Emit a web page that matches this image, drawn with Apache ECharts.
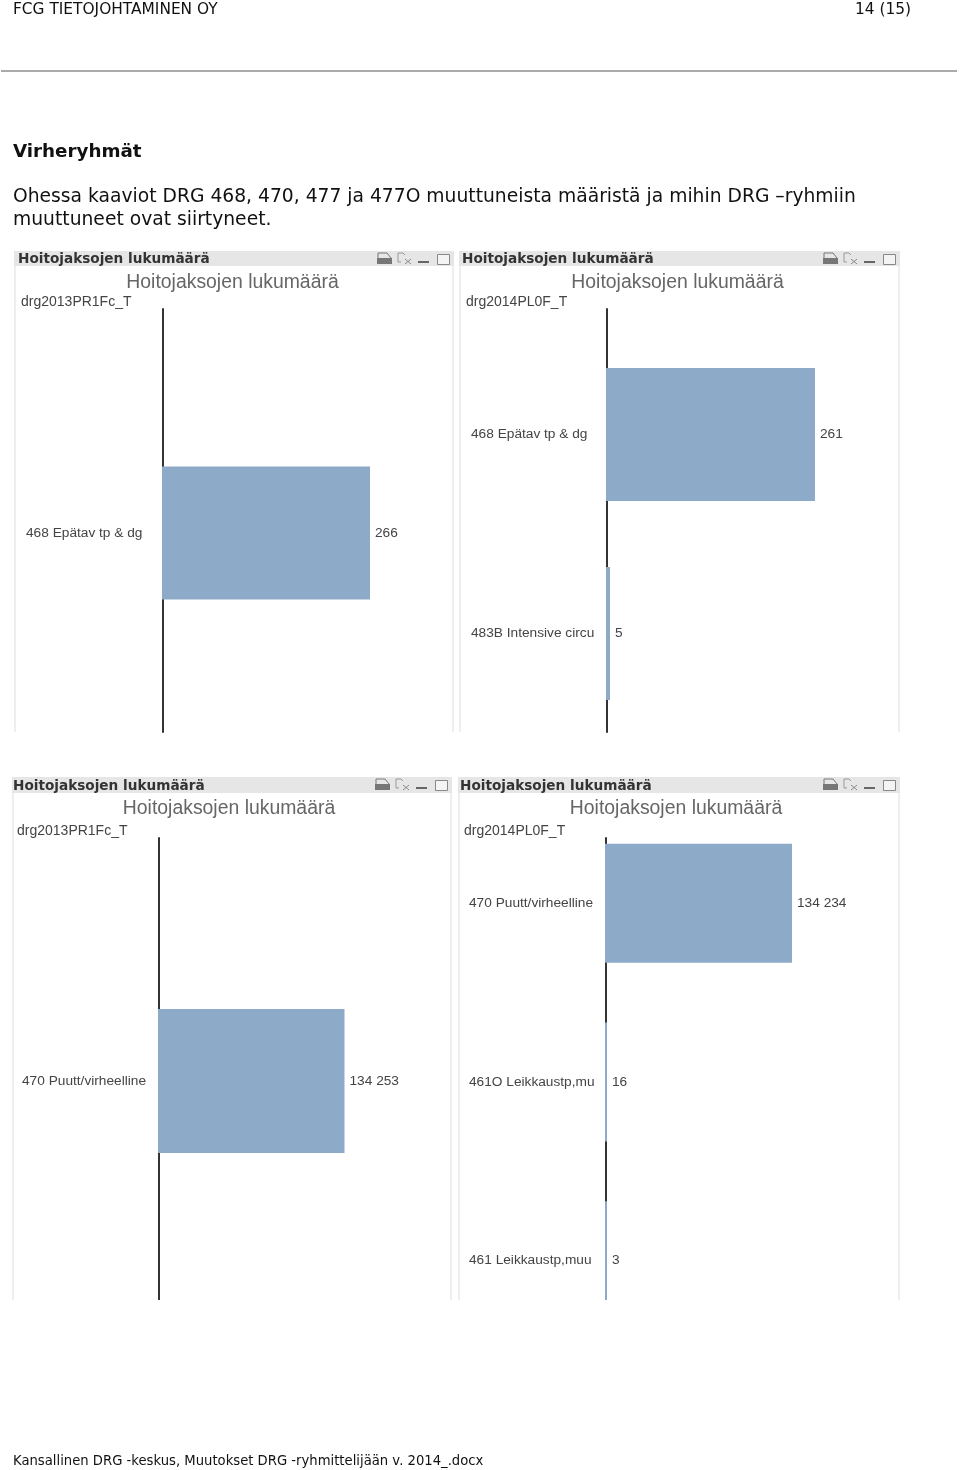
<!DOCTYPE html>
<html>
<head>
<meta charset="utf-8">
<style>
html, body { margin: 0; padding: 0; background: #fff; }
#main { width: 960px; height: 1470px; }
</style>
</head>
<body>
<div id="main"></div>
<script src="https://cdn.jsdelivr.net/npm/echarts@6/dist/echarts.min.js"></script>
<script>
const categories1 = ['468 Epätav tp & dg']
const values1 = [266]
const categories2 = ['468 Epätav tp & dg', '483B Intensive circu']
const values2 = [261, 5]
const categories3 = ['470 Puutt/virheelline']
const values3 = [134253]
const categories4 = ['470 Puutt/virheelline', '461O Leikkaustp,mu', '461 Leikkaustp,muu']
const values4 = [134234, 16, 3]

const panelTitle = 'Hoitojaksojen lukumäärä'
const bodyLines = [
  'Ohessa kaaviot DRG 468, 470, 477 ja 477O muuttuneista määristä ja mihin DRG –ryhmiin',
  'muuttuneet ovat siirtyneet.'
]

const SANS = '"Liberation Sans", Arial, sans-serif'
const VERDANA = '"DejaVu Sans", Verdana, sans-serif'
const BLUE = '#8eaac9'
const LABEL_SIZE = 13.7

const panels = [
  { left: 14, right: 454, top: 251, bottom: 732, head: 15, titleX: 232.5, titleY: 282.5, dimX: 21, dimY: 302, headX: 18, labelX: 26, dim: 'drg2013PR1Fc_T', axisLeft: 162, axisTop: 309,
    gridTop: 334, gridH: 398, width: 208, barWidth: 133, cats: categories1, vals: values1 },
  { left: 459, right: 900, top: 251, bottom: 732, head: 15, titleX: 677.5, titleY: 282.5, dimX: 466, dimY: 302, headX: 462, labelX: 471, dim: 'drg2014PL0F_T', axisLeft: 606, axisTop: 309,
    gridTop: 335, gridH: 398, width: 209, barWidth: 133, cats: categories2, vals: values2 },
  { left: 12, right: 452, top: 777, bottom: 1300, head: 16, titleX: 229, titleY: 809, dimX: 17, dimY: 831, headX: 13, labelX: 22, dim: 'drg2013PR1Fc_T', axisLeft: 158, axisTop: 838,
    gridTop: 862, gridH: 438, width: 186.5, barWidth: 144, cats: categories3, vals: values3 },
  { left: 458, right: 900, top: 777, bottom: 1300, head: 16, titleX: 676, titleY: 809, dimX: 464, dimY: 831, headX: 460, labelX: 469, dim: 'drg2014PL0F_T', axisLeft: 605, axisTop: 838,
    gridTop: 814, gridH: 536, width: 187, barWidth: 119, cats: categories4, vals: values4 }
]

function pageText(x, y, text, size, opts) {
  return {
    type: 'text', x: x, y: y, z: 20,
    style: Object.assign({
      text: text, fontSize: size, fontFamily: VERDANA, fill: '#111',
      verticalAlign: 'middle'
    }, opts || {})
  }
}

function icons(right, top) {
  const c = '#777'
  const x = right - 77
  return [
    { type: 'rect', z: 20, shape: { x: x, y: top + 7, width: 15, height: 6 }, style: { fill: c } },
    { type: 'polyline', z: 20, shape: { points: [[x + 1, top + 7], [x + 1, top + 2], [x + 10, top + 2], [x + 14, top + 7]] }, style: { stroke: c, fill: 'none', lineWidth: 1 } },
    { type: 'polyline', z: 20, shape: { points: [[x + 24, top + 11], [x + 21, top + 11], [x + 21, top + 2], [x + 26, top + 2], [x + 28, top + 4]] }, style: { stroke: '#999', fill: 'none', lineWidth: 1 } },
    { type: 'polyline', z: 20, shape: { points: [[x + 28, top + 8], [x + 34, top + 13]] }, style: { stroke: '#888', lineWidth: 1 } },
    { type: 'polyline', z: 20, shape: { points: [[x + 34, top + 8], [x + 28, top + 13]] }, style: { stroke: '#888', lineWidth: 1 } },
    { type: 'rect', z: 20, shape: { x: x + 41, y: top + 10, width: 11, height: 2 }, style: { fill: '#666' } },
    { type: 'rect', z: 20, shape: { x: x + 60.5, y: top + 3.5, width: 12, height: 10 }, style: { stroke: '#888', fill: '#f4f4f4', lineWidth: 1 } }
  ]
}

const grid = []
const xAxis = []
const yAxis = []
const series = []
const title = []
let graphic = [
  pageText(13, 10, 'FCG TIETOJOHTAMINEN OY', 15.4),
  pageText(911, 10, '14 (15)', 15.4, { align: 'right' }),
  { type: 'line', z: 20, shape: { x1: 1, y1: 71, x2: 957, y2: 71 }, style: { stroke: '#aaa', lineWidth: 2 } },
  pageText(13, 152, 'Virheryhmät', 18.3, { fontWeight: 'bold' }),
  pageText(13, 197, bodyLines[0], 18.73),
  pageText(13, 220, bodyLines[1], 18.73),
  pageText(13, 1462, 'Kansallinen DRG -keskus, Muutokset DRG -ryhmittelijään v. 2014_.docx', 13.2)
]

panels.forEach(function (p) {
  const idx = grid.length

  // data grid, the category axis has no line of its own
  grid.push({ left: p.axisLeft, top: p.gridTop, width: p.width, height: p.gridH })
  xAxis.push({ gridIndex: idx, type: 'value', min: 0, max: p.vals[0], show: false })
  yAxis.push({
    gridIndex: idx, type: 'category', inverse: true, data: p.cats,
    axisLine: { show: false }, axisTick: { show: false },
    axisLabel: { interval: 0, align: 'left', margin: p.axisLeft - p.labelX, color: '#444', fontFamily: SANS, fontSize: LABEL_SIZE, padding: [3, 0, 0, 0] }
  })
  series.push({
    type: 'bar', xAxisIndex: idx, yAxisIndex: idx, data: p.vals, barWidth: p.barWidth, barMinHeight: 2,
    itemStyle: { color: BLUE }, z: 5,
    label: {
      show: true, position: 'right', distance: 5, color: '#444', fontFamily: SANS, fontSize: LABEL_SIZE, padding: [3, 0, 0, 0],
      formatter: function (d) { return String(d.value).replace(/\B(?=(\d{3})+$)/g, ' ') }
    }
  })

  // the visible axis line is longer than the bands, so it gets a grid of its own
  grid.push({ left: p.axisLeft + 1, top: p.axisTop, width: p.width, height: p.bottom - p.axisTop })
  xAxis.push({ gridIndex: idx + 1, type: 'value', show: false })
  yAxis.push({
    gridIndex: idx + 1, type: 'value', splitLine: { show: false }, axisTick: { show: false }, axisLabel: { show: false },
    axisLine: { show: true, onZero: false, lineStyle: { color: '#333', width: 2 } }
  })

  title.push({
    text: panelTitle, left: p.titleX, top: p.titleY, textAlign: 'center', textVerticalAlign: 'middle', padding: 0,
    textStyle: { fontFamily: SANS, fontWeight: 'normal', fontSize: 19.4, color: '#666' }
  })
  title.push({
    text: p.dim, left: p.dimX, top: p.dimY, textVerticalAlign: 'middle', padding: 0,
    textStyle: { fontFamily: SANS, fontWeight: 'normal', fontSize: 14, color: '#444' }
  })

  // frame of the panel
  graphic.push({ type: 'rect', z: 20, shape: { x: p.left, y: p.top, width: p.right - p.left, height: p.head }, style: { fill: '#e6e6e6' } })
  graphic.push({ type: 'rect', z: 20, shape: { x: p.left, y: p.top + p.head, width: 2, height: p.bottom - p.top - p.head }, style: { fill: '#eeeeee' } })
  graphic.push({ type: 'rect', z: 20, shape: { x: p.right - 2, y: p.top + p.head, width: 2, height: p.bottom - p.top - p.head }, style: { fill: '#eeeeee' } })
  graphic.push(pageText(p.headX, p.top + p.head / 2 + 1, panelTitle, 13.64, { fontWeight: 'bold', fill: '#333' }))
  graphic = graphic.concat(icons(p.right, p.top))
})

// the screenshot of the lower charts is cut off here
graphic.push({ type: 'rect', z: 15, shape: { x: 0, y: 1300, width: 960, height: 60 }, style: { fill: '#fff' } })

const myChart = echarts.init(document.getElementById('main'))
myChart.setOption({
  animation: false,
  backgroundColor: '#fff',
  title: title,
  grid: grid,
  xAxis: xAxis,
  yAxis: yAxis,
  series: series,
  graphic: graphic
})
</script>
</body>
</html>
